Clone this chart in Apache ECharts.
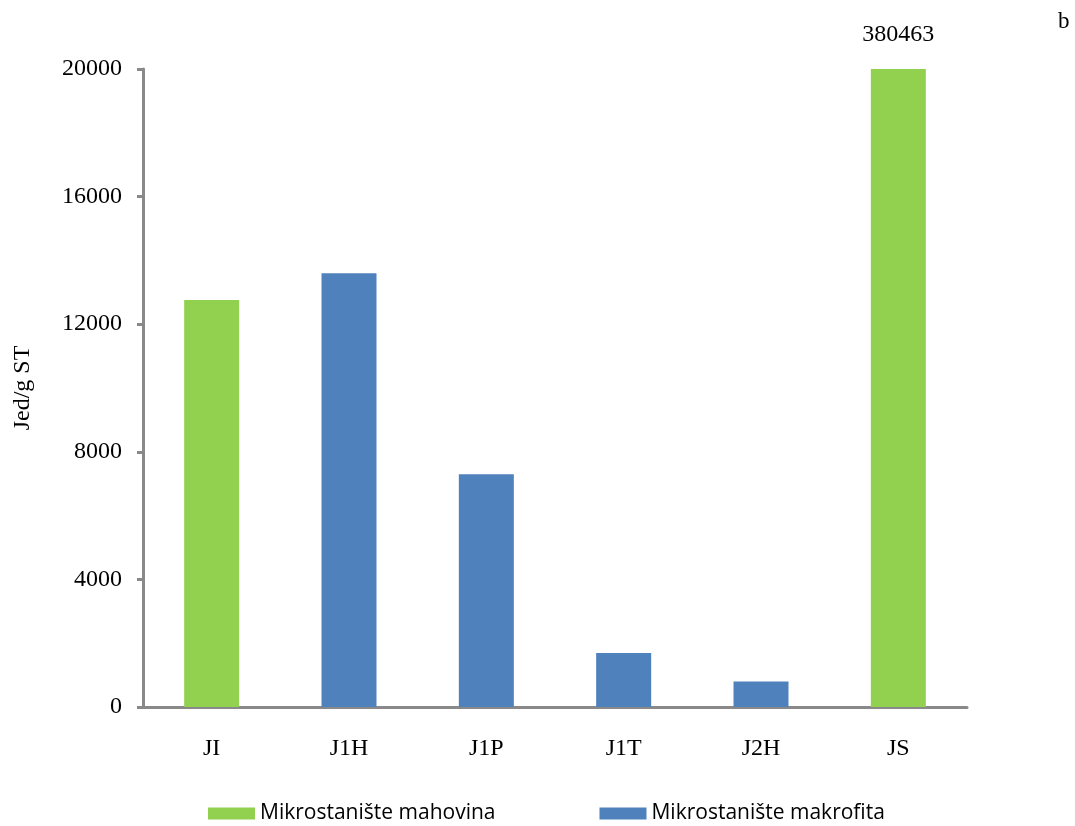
<!DOCTYPE html>
<html><head><meta charset="utf-8">
<script src="https://cdn.jsdelivr.net/npm/echarts@6/dist/echarts.min.js"></script>
<style>html,body{margin:0;padding:0;background:#fff}#c{width:1075px;height:826px}</style>
</head><body><div id="c"></div>
<script>
const categories = ['JI','J1H','J1P','J1T','J2H','JS'];
const mahovina = [12760, null, null, null, null, 380463];
const makrofita = [null, 13600, 7300, 1690, 800, null];
const yTicks = [0, 4000, 8000, 12000, 16000, 20000];
const seriesNames = ['Mikrostanište mahovina','Mikrostanište makrofita'];

const chart = echarts.init(document.getElementById('c'));
const serif = "'Liberation Serif', 'Times New Roman', serif";
chart.setOption({
  animation:false,
  graphic:[{type:'text', left:1058, top:10, style:{text:'b', font:"23px 'Liberation Serif'", fill:'#000'}}],
  legend:{
    bottom:-3, left:203, itemWidth:47, itemHeight:12, itemGap:104, icon:'rect',
    textStyle:{fontFamily:'Open Sans', fontSize:21, color:'#000'},
    data:seriesNames
  },
  grid:{left:143, right:108, top:69, bottom:119, containLabel:false},
  xAxis:{type:'category', data:categories,
    axisLine:{lineStyle:{color:'#898989', width:3}},
    axisTick:{show:false},
    axisLabel:{fontFamily:serif, fontSize:24, color:'#000', margin:30}
  },
  yAxis:{type:'value', min:0, max:20000, interval:4000,
    name:'Jed/g ST', nameLocation:'middle', nameGap:108, nameRotate:90,
    nameTextStyle:{fontFamily:serif, fontSize:24, color:'#000'},
    axisLine:{show:true, lineStyle:{color:'#898989', width:3}},
    axisTick:{show:true, length:6, lineStyle:{color:'#898989', width:3}},
    splitLine:{show:false},
    axisLabel:{fontFamily:serif, fontSize:24, color:'#000', margin:21,
      formatter:v=> yTicks.includes(v)? String(v):''}
  },
  series:[
    {name:seriesNames[0], type:'bar', stack:'s', data:mahovina, barWidth:55,
     itemStyle:{color:'#92D050'},
     label:{show:true, position:'top', distance:22, fontFamily:serif, fontSize:24, color:'#000',
       formatter:p=> p.value>20000 ? String(p.value) : ''}},
    {name:seriesNames[1], type:'bar', stack:'s', data:makrofita, barWidth:55,
     itemStyle:{color:'#4F81BD'}}
  ]
});
</script></body></html>
